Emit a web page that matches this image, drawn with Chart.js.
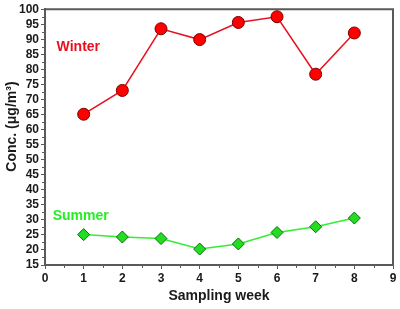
<!DOCTYPE html>
<html>
<head>
<meta charset="utf-8">
<script src="https://cdn.jsdelivr.net/npm/chart.js@4"></script>
<style>
  html, body { margin: 0; padding: 0; background: #fff; }
  #wrap { width: 400px; height: 309px; }
</style>
</head>
<body>
<div id="wrap"><canvas id="concChart" width="400" height="309"></canvas></div>
<script>
// values
const weeks = [1, 2, 3, 4, 5, 6, 7, 8];
const winter = [65.1, 73.0, 93.5, 89.9, 95.6, 97.5, 78.4, 92.1];
const summer = [25.1, 24.3, 23.8, 20.3, 22.0, 25.8, 27.7, 30.6];
const xTicks = [0, 1, 2, 3, 4, 5, 6, 7, 8, 9];
const yTicks = [15, 20, 25, 30, 35, 40, 45, 50, 55, 60, 65, 70, 75, 80, 85, 90, 95, 100];

const axisColor = '#5a5a5a';
const font = 'Liberation Sans, Arial, sans-serif';

// frame on top/right, minor ticks, series labels, y title
const extras = {
    id: 'extras',
    afterDraw(chart) {
        const { ctx, chartArea: a, scales } = chart;
        ctx.save();
        ctx.strokeStyle = axisColor;
        ctx.lineWidth = 2;
        ctx.beginPath();
        ctx.moveTo(a.left, a.top);
        ctx.lineTo(a.right, a.top);
        ctx.lineTo(a.right, a.bottom);
        ctx.stroke();

        // minor ticks
        ctx.lineWidth = 1;
        ctx.beginPath();
        for (let i = 0; i < xTicks.length - 1; i++) {
            const px = Math.round(scales.x.getPixelForValue(xTicks[i] + 0.5)) + 0.5;
            ctx.moveTo(px, a.bottom);
            ctx.lineTo(px, a.bottom + 3);
        }
        for (let i = 0; i < yTicks.length - 1; i++) {
            const py = Math.round(scales.y.getPixelForValue(yTicks[i] + 2.5)) + 0.5;
            ctx.moveTo(a.left - 3, py);
            ctx.lineTo(a.left, py);
        }
        ctx.stroke();

        ctx.font = 'bold 14px ' + font;
        ctx.textBaseline = 'middle';
        ctx.fillStyle = '#e8101e';
        ctx.fillText('Winter', scales.x.getPixelForValue(0.3), scales.y.getPixelForValue(87.5));
        ctx.fillStyle = '#22ee22';
        ctx.fillText('Summer', scales.x.getPixelForValue(0.2), scales.y.getPixelForValue(31.1));

        // y axis title, sits a little above the middle like the original
        ctx.translate(12, scales.y.getPixelForValue(61));
        ctx.rotate(-Math.PI / 2);
        ctx.textAlign = 'center';
        ctx.fillStyle = '#1a1a1a';
        ctx.font = 'bold 14px ' + font;
        ctx.fillText('Conc. (μg/m³)', 0, 0);
        ctx.restore();
    }
};

const ctx = document.getElementById('concChart').getContext('2d');
new Chart(ctx, {
    type: 'line',
    data: {
        datasets: [
            {
                label: 'Winter',
                data: weeks.map((w, i) => ({ x: w, y: winter[i] })),
                borderColor: '#e8101e',
                borderWidth: 1.5,
                pointStyle: 'circle',
                pointRadius: 6,
                pointBackgroundColor: '#ff0000',
                pointBorderColor: '#7a0000',
                pointBorderWidth: 1,
                tension: 0
            },
            {
                label: 'Summer',
                data: weeks.map((w, i) => ({ x: w, y: summer[i] })),
                borderColor: '#33ee33',
                borderWidth: 1.5,
                pointStyle: 'rectRot',
                pointRadius: 6,
                pointBackgroundColor: '#22dd22',
                pointBorderColor: '#0b6b0b',
                pointBorderWidth: 1,
                tension: 0
            }
        ]
    },
    options: {
        responsive: false,
        animation: false,
        layout: { padding: { top: 6, right: 4, left: 0, bottom: 0 } },
        plugins: { legend: { display: false }, tooltip: { enabled: false } },
        scales: {
            x: {
                type: 'linear',
                min: 0, max: 9,
                afterFit: s => { s.height = 44; },
                afterBuildTicks: s => { s.ticks = xTicks.map(v => ({ value: v })); },
                grid: { drawOnChartArea: false, tickLength: 4, tickColor: axisColor, tickWidth: 1 },
                border: { color: axisColor, width: 2 },
                ticks: { color: '#1a1a1a', padding: 2, maxRotation: 0, autoSkip: false, font: { family: font, size: 12, weight: 'bold' } },
                title: { display: true, text: 'Sampling week', color: '#1a1a1a', font: { family: font, size: 14, weight: 'bold' } }
            },
            y: {
                min: 15, max: 100,
                afterFit: s => { s.width = 45; },
                afterBuildTicks: s => { s.ticks = yTicks.map(v => ({ value: v })); },
                grid: { drawOnChartArea: false, tickLength: 4, tickColor: axisColor, tickWidth: 1 },
                border: { color: axisColor, width: 2 },
                ticks: { color: '#1a1a1a', padding: 2, autoSkip: false, font: { family: font, size: 12, weight: 'bold' } }
            }
        }
    },
    plugins: [extras]
});
</script>
</body>
</html>
